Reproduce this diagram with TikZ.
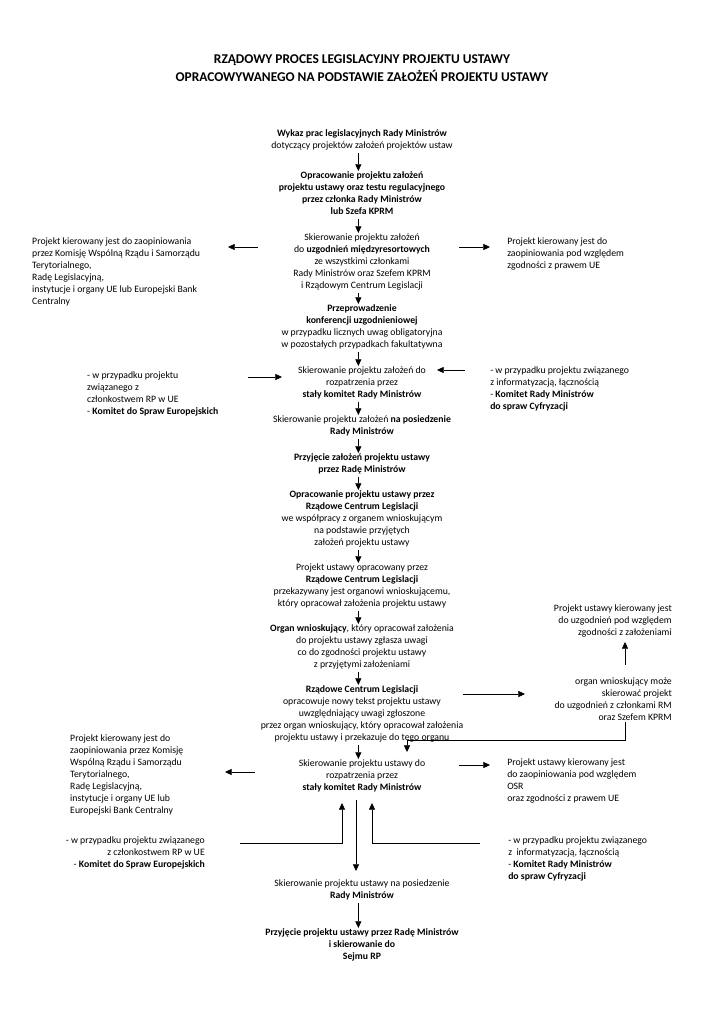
\documentclass[tikz,border=0pt]{standalone}
\usepackage{fontspec}
\setmainfont{Carlito}
\usetikzlibrary{arrows.meta,calc}

\tikzset{
  txt/.style={inner sep=0pt, font=\fontsize{8}{9.85}\selectfont, execute at begin node=\strut},
  mid/.style={txt, align=center, anchor=north},
  lft/.style={txt, align=left, anchor=north west},
  rgt/.style={txt, align=right, anchor=north east},
  headline/.style={inner sep=0pt, anchor=north, align=center,
    font=\fontsize{11}{14.8}\selectfont\bfseries, execute at begin node=\strut},
  arr/.style={-{Triangle[length=5.5pt,width=5pt]}, line width=0.5pt},
}

\begin{document}
\begin{tikzpicture}[x=0.8207pt, y=-0.8207pt]
  \useasboundingbox (0,0) rectangle (725,1024);

  % title
  \node[headline] (title) at (362,54.3) {RZĄDOWY PROCES LEGISLACYJNY PROJEKTU USTAWY\\
    OPRACOWYWANEGO NA PODSTAWIE ZAŁOŻEŃ PROJEKTU USTAWY};

  % main column
  \node[mid] (n1) at (362,129) {\textbf{Wykaz prac legislacyjnych Rady Ministrów}\\
    dotyczący projektów założeń projektów ustaw};
  \node[mid, font=\fontsize{8}{9.85}\selectfont\bfseries] (n2) at (362,171) {Opracowanie projektu założeń\\
    projektu ustawy oraz testu regulacyjnego\\ przez członka Rady Ministrów\\ lub Szefa KPRM};
  \node[mid] (n3) at (362,233) {Skierowanie projektu założeń\\
    do \textbf{uzgodnień międzyresortowych}\\ ze wszystkimi członkami\\
    Rady Ministrów oraz Szefem KPRM\\ i Rządowym Centrum Legislacji};
  \node[mid] (n4) at (362,304) {\textbf{Przeprowadzenie}\\ \textbf{konferencji uzgodnieniowej}\\
    w przypadku licznych uwag obligatoryjna\\ w pozostałych przypadkach fakultatywna};
  \node[mid] (n5) at (362,366) {Skierowanie projektu założeń do\\ rozpatrzenia przez\\
    \textbf{stały komitet Rady Ministrów}};
  \node[mid] (n6) at (362,415) {Skierowanie projektu założeń \textbf{na posiedzenie}\\
    \textbf{Rady Ministrów}};
  \node[mid, font=\fontsize{8}{9.85}\selectfont\bfseries] (n7) at (362,453) {Przyjęcie założeń projektu ustawy\\
    przez Radę Ministrów};
  \node[mid] (n8) at (362,490) {\textbf{Opracowanie projektu ustawy przez}\\
    \textbf{Rządowe Centrum Legislacji}\\ we współpracy z organem wnioskującym\\
    na podstawie przyjętych\\ założeń projektu ustawy};
  \node[mid] (n9) at (362,563) {Projekt ustawy opracowany przez\\
    \textbf{Rządowe Centrum Legislacji}\\ przekazywany jest organowi wnioskującemu,\\
    który opracował założenia projektu ustawy};
  \node[mid] (n10) at (362,624) {\textbf{Organ wnioskujący}, który opracował założenia\\
    do projektu ustawy zgłasza uwagi\\ co do zgodności projektu ustawy\\
    z przyjętymi założeniami};
  \node[mid] (n11) at (362,685) {\textbf{Rządowe Centrum Legislacji}\\
    opracowuje nowy tekst projektu ustawy\\ uwzględniający uwagi zgłoszone\\
    przez organ wnioskujący, który opracował założenia\\
    projektu ustawy i przekazuje do tego organu};
  \node[mid] (n12) at (362,759) {Skierowanie projektu ustawy do\\ rozpatrzenia przez\\
    \textbf{stały komitet Rady Ministrów}};
  \node[mid] (n13) at (362,879) {Skierowanie projektu ustawy na posiedzenie\\
    \textbf{Rady Ministrów}};
  \node[mid, font=\fontsize{8}{9.85}\selectfont\bfseries] (n14) at (362,928) {Przyjęcie projektu ustawy przez Radę Ministrów\\
    i skierowanie do\\ Sejmu RP};

  % side notes
  \node[lft] (opinL) at (32,237) {Projekt kierowany jest do zaopiniowania\\
    przez Komisję Wspólną Rządu i Samorządu\\ Terytorialnego,\\ Radę Legislacyjną,\\
    instytucje i organy UE lub Europejski Bank\\ Centralny};
  \node[lft] (opinR) at (507,237) {Projekt kierowany jest do\\
    zaopiniowania pod względem\\ zgodności z prawem UE};
  \node[lft] (kseL) at (87,371) {- w przypadku projektu\\ związanego z\\
    członkostwem RP w UE\\ - \textbf{Komitet do Spraw Europejskich}};
  \node[lft] (krmcR) at (490,366) {- w przypadku projektu związanego\\
    z informatyzacją, łącznością\\ - \textbf{Komitet Rady Ministrów}\\
    \textbf{do spraw Cyfryzacji}};
  \node[rgt] (zgodR) at (672,604) {Projekt ustawy kierowany jest\\
    do uzgodnień pod względem\\ zgodności z założeniami};
  \node[rgt] (organR) at (672,677) {organ wnioskujący może\\ skierować projekt\\
    do uzgodnień z członkami RM\\ oraz Szefem KPRM};
  \node[lft] (opinL2) at (70,734) {Projekt kierowany jest do\\
    zaopiniowania przez Komisję\\ Wspólną Rządu i Samorządu\\ Terytorialnego,\\
    Radę Legislacyjną,\\ instytucje i organy UE lub\\ Europejski Bank Centralny};
  \node[rgt] (kseL2) at (205,836) {- w przypadku projektu związanego\\
    z członkostwem RP w UE\\ - \textbf{Komitet do Spraw Europejskich}};
  \node[lft] (opinR2) at (507,758) {Projekt ustawy kierowany jest\\
    do zaopiniowania pod względem\\ OSR\\ oraz zgodności z prawem UE};
  \node[lft] (krmcR2) at (508,836) {- w przypadku projektu związanego\\
    z\ \ informatyzacją, łącznością\\ - \textbf{Komitet Rady Ministrów}\\
    \textbf{do spraw Cyfryzacji}};

  % main flow
  \foreach \a/\b in {n1/n2, n2/n3, n3/n4, n4/n5, n5/n6, n6/n7, n7/n8, n8/n9,
                     n9/n10, n10/n11, n11/n12, n13/n14}
    \draw[arr, shorten <=1pt] ([xshift=-3pt]\a.south) -- ([xshift=-3pt]\a.south |- \b.north);
  \draw[arr] ($(n12.north)+(-6,41)$) -- ($(n13.north)+(-6,-8)$);

  % side arrows
  \draw[arr] ($(n3.north)+(-104,14)$) -- ($(opinL.north west)+(196,10)$);
  \draw[arr] ($(n3.north)+(97,14)$) -- ($(opinR.north west)+(-17,10)$);
  \draw[arr] ($(kseL.north west)+(161,6)$) -- ($(n5.north)+(-80,11)$);
  \draw[arr] ($(krmcR.north west)+(-25,4)$) -- ($(n5.north)+(75,4)$);
  \draw[arr] ($(n11.north)+(101,9)$) -- ($(organR.north east)+(-147,17)$);
  \draw[arr] ($(organR.north east)+(-47,-12)$) -- ($(zgodR.north east)+(-47,38)$);
  \draw[arr] ($(organR.north east)+(-47,45)$) |- ($(n12.north)+(45,-19)$) -- ($(n12.north)+(45,-7)$);
  \draw[arr] ($(n12.north)+(-107,13)$) -- ($(opinL2.north west)+(155,38)$);
  \draw[arr] ($(n12.north)+(97,6)$) -- ($(opinR2.north west)+(-17,7)$);
  \draw[arr] ($(kseL2.north east)+(35,7)$) -| ($(n12.north)+(-20,44)$);
  \draw[arr] ($(krmcR2.north west)+(-28,7)$) -| ($(n12.north)+(10,44)$);
\end{tikzpicture}
\end{document}
